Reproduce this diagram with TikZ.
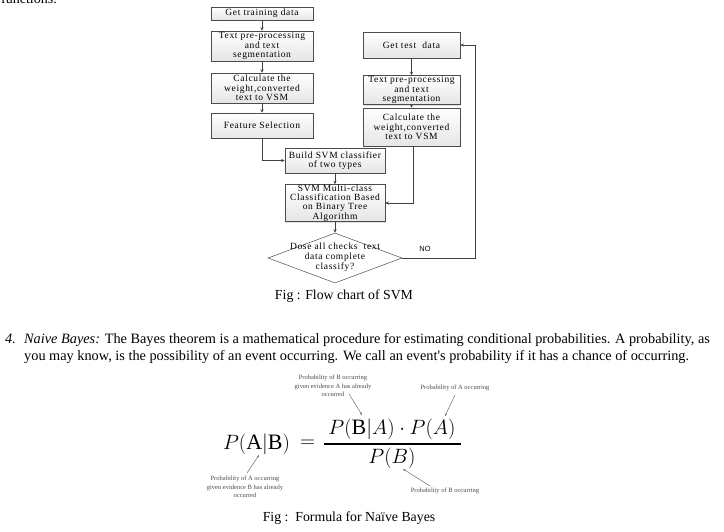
\documentclass[tikz,border=0pt]{standalone}
\usepackage{fontspec}
\setmainfont{Liberation Serif}
\newfontfamily\arialf{Liberation Sans}
\newfontfamily\boxfont[LetterSpace=7]{Liberation Serif}
\usetikzlibrary{shapes.geometric,arrows.meta,shadows}
\begin{document}
\begin{tikzpicture}[x=1pt,y=-1pt,
  box/.style={draw=gray!60!black, line width=0.5pt, top color=white, bottom color=gray!20,
    align=center, inner sep=0pt, font=\boxfont\fontsize{9.5}{9.3}\selectfont,
    drop shadow={shadow xshift=1pt, shadow yshift=-1pt, opacity=0.25}},
  arr/.style={draw=gray!50!black, line width=0.6pt, -{Stealth[length=3.5pt,width=3pt]}},
  note/.style={font=\fontsize{6.5}{8.5}\selectfont, text=black!70, align=center, inner sep=0pt},
  narr/.style={draw=black!60, line width=0.45pt, -{Stealth[length=2.5pt,width=2pt]}},
  body/.style={font=\fontsize{14.3}{16}\selectfont, inner sep=0pt, anchor=base west},
  figcap/.style={font=\fontsize{13.8}{16}\selectfont, inner sep=0pt},
  big/.style={font=\fontsize{22}{24}\selectfont, inner sep=0pt}]
\useasboundingbox (0,0) rectangle (724,531);
\clip (0,0) rectangle (724,531);
\fill[white] (0,0) rectangle (724,531);

% top cut-off text
\node[font=\fontsize{14}{16}\selectfont, inner sep=0pt, anchor=base west] (fn) at (1,3) {functions.};

% left column
\node[box, minimum width=102pt, minimum height=13pt] (tr1) at (262,13.5) {Get training data};
\node[box, minimum width=102pt, minimum height=30pt] (tr2) at (262,46) {Text pre-processing\\and text\\segmentation};
\node[box, minimum width=102pt, minimum height=30pt] (tr3) at (262,88) {Calculate the\\weight,converted\\text to VSM};
\node[box, minimum width=102pt, minimum height=25pt] (tr4) at (262,125.5) {Feature Selection};
% right column
\node[box, minimum width=97pt, minimum height=26pt] (te1) at (411.5,45) {Get test\ \ data};
\node[box, minimum width=97pt, minimum height=29pt] (te2) at (411.5,90) {Text pre-processing\\and text\\segmentation};
\node[box, minimum width=97pt, minimum height=38pt] (te3) at (411.5,127) {Calculate the\\weight,converted\\text to VSM};
% middle
\node[box, minimum width=100pt, minimum height=25pt] (b1) at (335,160.5) {Build SVM classifier\\of two types};
\node[box, minimum width=100pt, minimum height=37pt] (b2) at (335,203) {SVM Multi-class\\Classification Based\\on Binary Tree\\Algorithm};
\node[diamond, draw=gray!60!black, line width=0.5pt, fill=white, minimum width=134pt, minimum height=50pt, inner sep=0pt] (d) at (335,258) {};
\node[font=\boxfont\fontsize{9.5}{10}\selectfont, align=center, inner sep=0pt] (dt) at (335,257) {Dose all checks\ \ text\\data complete\\classify?};
\coordinate (rx) at (475,258);
\node[font=\arialf\fontsize{7.5}{8}\selectfont, inner sep=0pt] (no) at (425,249) {NO};

\draw[arr] (tr1) -- (tr2);
\draw[arr] (tr2) -- (tr3);
\draw[arr] (tr3) -- (tr4);
\draw[arr] (te1) -- (te2);
\draw[arr] (te2) -- (te3);
\draw[arr] (tr4.south) |- (b1.west);
\draw[arr] (b1) -- (b2);
\draw[arr] ([xshift=1.5pt]te3.south) |- (b2.east);
\draw[arr] (b2) -- (d.north);
\draw[arr] (d.east) -- (rx) |- (te1.east);

\node[figcap] (cap1) at (344,296) {Fig : Flow chart of SVM};

% paragraph
\node[body, anchor=base west] (n4) at (5,343) {\textit{4.}};
\node[body] (l1) at (24,343) {\textit{Naive Bayes:} The Bayes theorem is a mathematical procedure for estimating conditional probabilities. A probability, as};
\node[body] (l2) at (24,360) {you may know, is the possibility of an event occurring. We call an event\textquotesingle s probability if it has a chance of occurring.};

% formula
\node[big] (lhs) at (256.5,444) {$P(\mathrm{A}|\mathrm{B})$};
\node[big] (eq) at (307.5,444) {$=$};
\node[big] (num) at (392,429) {$P(\mathrm{B}|A)\cdot P(A)$};
\node[big] (den) at (392,458) {$P(B)$};
\coordinate (barl) at (324,444);
\coordinate (barr) at (461,444);
\draw[line width=1.4pt] (barl) -- (barr);

\node[note] (a1) at (333,386) {Probability of B occurring\\given evidence A has already\\occurred};
\node[note] (a2) at (455,388) {Probability of A occurring};
\node[note] (a3) at (245,487) {Probability of A occurring\\given evidence B has already\\occurred};
\node[note] (a4) at (445,491) {Probability of B occurring};
\coordinate (t1a) at (349,394); \coordinate (t1b) at (362,415);
\coordinate (t2a) at (455,395); \coordinate (t2b) at (445,416);
\coordinate (t3a) at (247,473); \coordinate (t3b) at (259,455);
\coordinate (t4a) at (430,486); \coordinate (t4b) at (403,469);
\draw[narr] (t1a) -- (t1b);
\draw[narr] (t2a) -- (t2b);
\draw[narr] (t3a) -- (t3b);
\draw[narr] (t4a) -- (t4b);

\node[figcap] (cap2) at (349,518) {Fig :\ \ Formula for Naïve Bayes};
\end{tikzpicture}
\end{document}
